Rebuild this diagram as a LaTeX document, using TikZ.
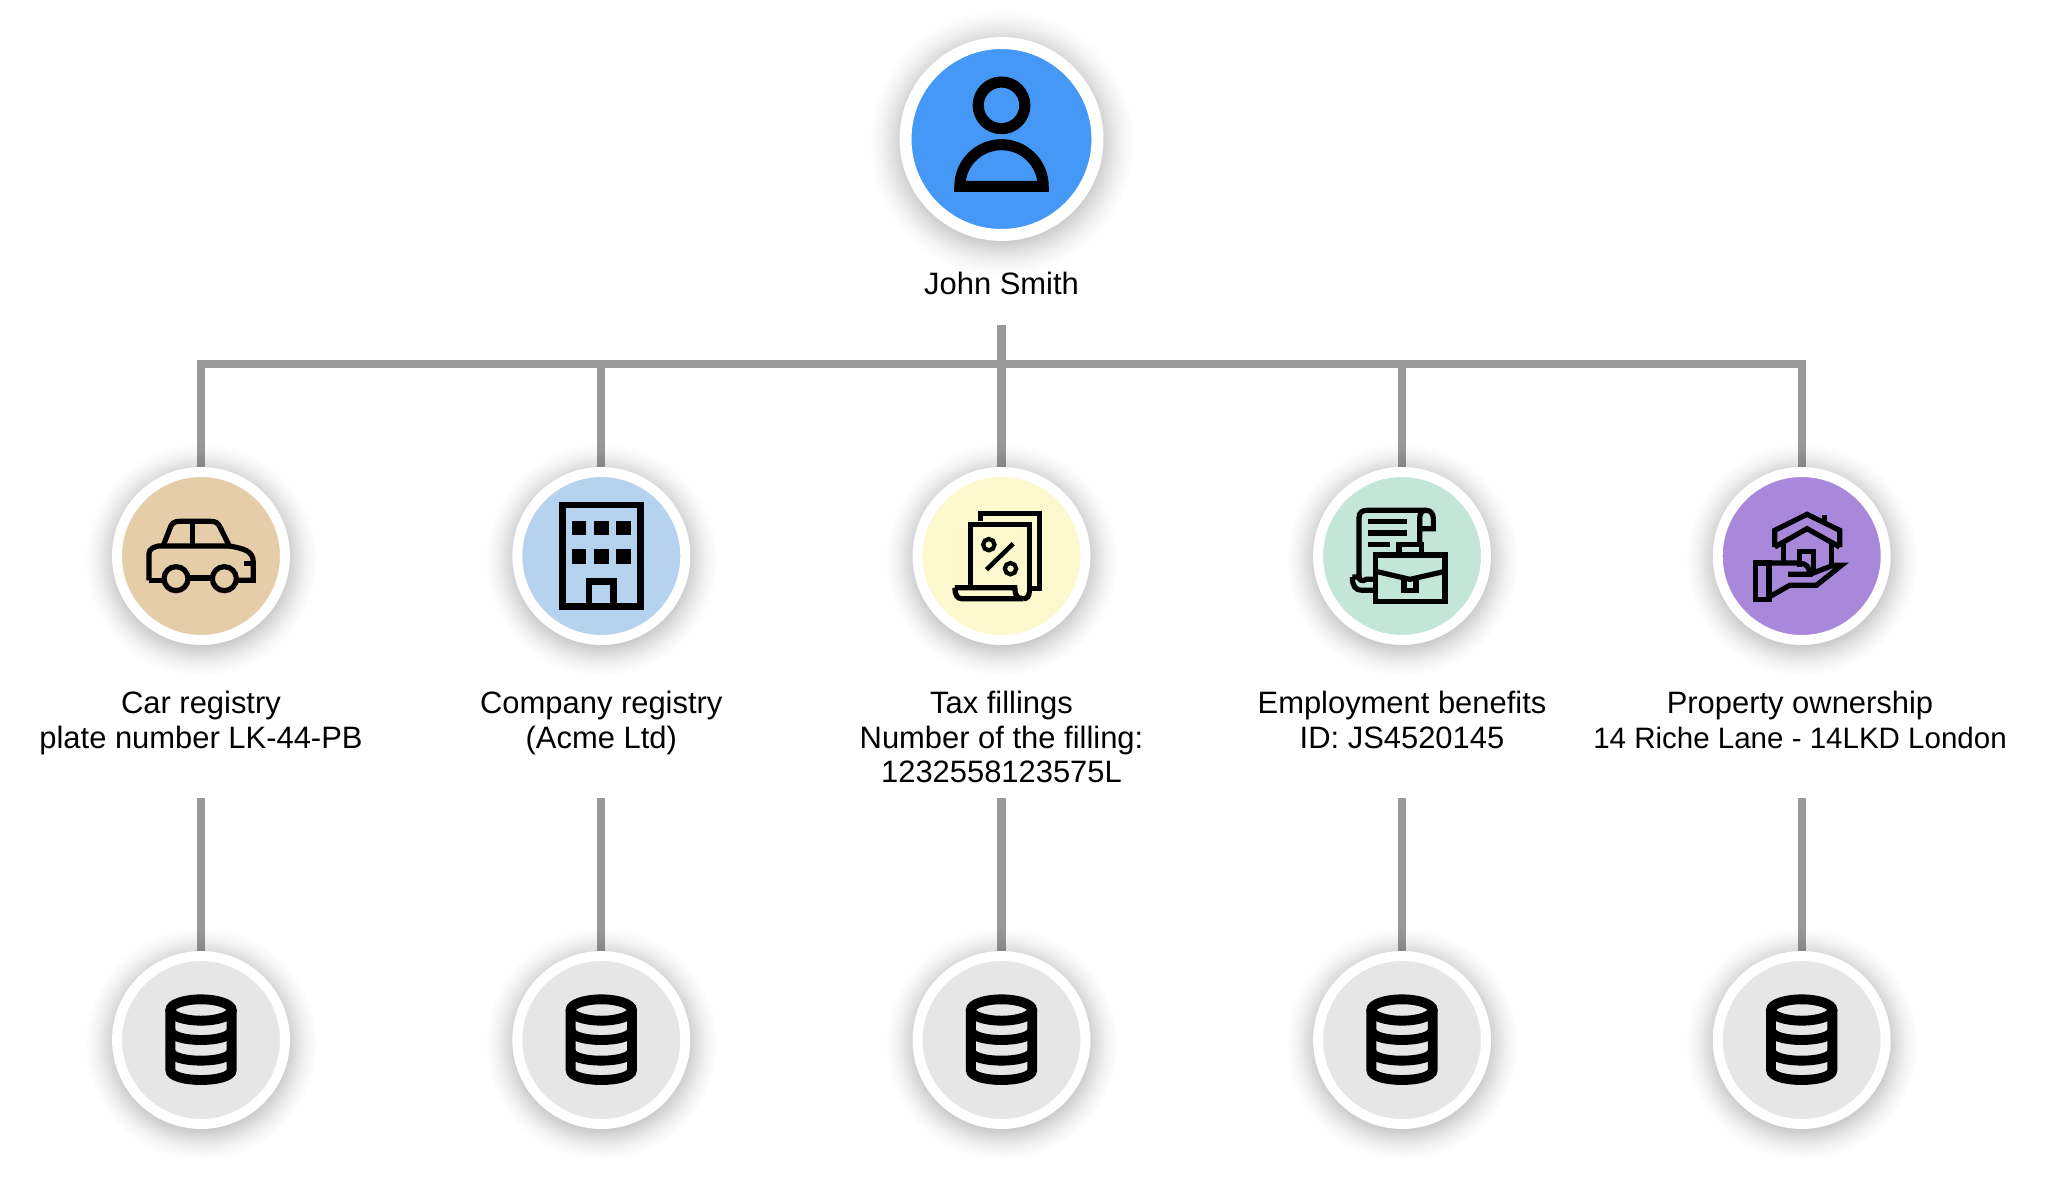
\documentclass[tikz,border=0pt]{standalone}
\usepackage{fontspec}
\setmainfont{Liberation Sans}
\usetikzlibrary{backgrounds,shadows,fadings}

\definecolor{johnblue}{HTML}{4598F6}
\definecolor{cartan}{HTML}{E6CDA9}
\definecolor{companyblue}{HTML}{B5D2EE}
\definecolor{taxyellow}{HTML}{FDF8CD}
\definecolor{benefitsgreen}{HTML}{C3E6D8}
\definecolor{propertypurple}{HTML}{A888DA}
\definecolor{dbgray}{HTML}{E6E6E6}
\definecolor{linkgray}{HTML}{999999}

\pgfdeclareradialshading{softhaloshade}{\pgfpointorigin}{color(0bp)=(pgftransparent!76); color(17.5bp)=(pgftransparent!76);
    color(19bp)=(pgftransparent!82); color(20.5bp)=(pgftransparent!88); color(22.5bp)=(pgftransparent!95);
    color(25bp)=(pgftransparent!100); color(50bp)=(pgftransparent!100)}
\pgfdeclarefading{softhalo}{\pgfuseshading{softhaloshade}}

\tikzset{
    disc/.style={circle, draw=white, line width=5.67pt, minimum size=3.36cm, inner sep=0pt,
        general shadow={shadow xshift=0pt, shadow yshift=-1.5pt, shadow scale=1.38, fill=black, path fading=softhalo}},
    bigdisc/.style={disc, line width=6.8pt, minimum size=3.84cm},
    link/.style={draw=linkgray, line width=4.7pt},
    caption/.style={align=center, inner sep=0pt, anchor=north, font=\fontsize{17.6}{19.5}\selectfont},
    icon/.style={x=0.00667cm, y=-0.00667cm, black, line width=2.95pt, miter limit=4}
}

\begin{document}
\begin{tikzpicture}[x=0.02cm, y=-0.02cm]
    \useasboundingbox (0,0) rectangle (2072,1186);

    % Person
    \node[bigdisc, fill=johnblue] (john) at (1001.5,139) {};
    \node[caption] (johnlabel) at (1001.5,271.5) {John Smith};

    % Registries
    \node[disc, fill=cartan] (car) at (201,556) {};
    \node[disc, fill=companyblue] (company) at (601.3,556) {};
    \node[disc, fill=taxyellow] (tax) at (1001.5,556) {};
    \node[disc, fill=benefitsgreen] (benefits) at (1402,556) {};
    \node[disc, fill=propertypurple] (property) at (1801.7,556) {};

    \node[caption] (carlabel) at (201,691) {Car registry\\plate number LK-44-PB};
    \node[caption] (companylabel) at (601.3,691) {Company registry\\(Acme Ltd)};
    \node[caption] (taxlabel) at (1001.5,691) {Tax fillings\\Number of the filling:\\1232558123575L};
    \node[caption] (benefitslabel) at (1402,691) {Employment benefits\\ID: JS4520145};
    \node[caption] (propertylabel) at (1800,691) {Property ownership\\{\fontsize{16.8}{19.5}\selectfont 14 Riche Lane - 14LKD London}};

    % Databases
    \foreach \name/\x in {car/201, company/601.3, tax/1001.5, benefits/1402, property/1801.7} {
        \node[disc, fill=dbgray] (\name db) at (\x,1040) {};
        \coordinate (\name stub) at (\x,798);
        \begin{scope}[shift={(\name db.center)}, icon, line width=5.6pt]
            \draw (0,-90) ellipse (92 and 32);
            \draw (-92,-90) -- (-92,90) .. controls (-92,130) and (92,130) .. (92,90) -- (92,-90);
            \draw (-92,-30) .. controls (-92,10) and (92,10) .. (92,-30);
            \draw (-92,32) .. controls (-92,72) and (92,72) .. (92,32);
        \end{scope}
    }

    % Connectors
    \coordinate (johnstub) at (1001.5,325);
    \coordinate (busleft) at (201,364);
    \coordinate (busright) at (1801.7,364);
    \begin{scope}[on background layer]
        \fill[white] (0,0) rectangle (2072,1186);
        \draw[link] (car.north) |- (busright) -- (property.north);
        \draw[link] (johnstub) -- (tax.north);
        \draw[link] (company.north) -- (company.north |- busleft);
        \draw[link] (benefits.north) -- (benefits.north |- busleft);
        \foreach \name in {car, company, tax, benefits, property}
            \draw[link] (\name stub) -- (\name db.north);
    \end{scope}

    % John
    \begin{scope}[shift={(john.center)}, icon, line width=6.3pt]
        \draw (0,-101) circle (70);
        \draw (-125,142) arc (180:360:125) -- cycle;
    \end{scope}

    % Car
    \begin{scope}[shift={(car.center)}, icon]
        \draw (-113,-32) -- (-95,-78) .. controls (-90,-98) and (-80,-104) .. (-65,-104) -- (30,-104)
            .. controls (45,-104) and (52,-98) .. (58,-85) -- (85,-30) .. controls (130,-22) and (157,-15) .. (157,20)
            -- (157,73) -- (106,73);
        \draw (-156,73) -- (-156,-7) .. controls (-156,-22) and (-140,-27) .. (-128,-30) -- (85,-30);
        \draw (-156,73) -- (-113,73);
        \draw (-33,66) -- (34,66);
        \draw (-25,-104) -- (-25,-30);
        \draw (128,23) -- (157,23);
        \draw (-75,68) circle (36);
        \draw (70,68) circle (36);
    \end{scope}

    % Company
    \begin{scope}[shift={(company.center)}, icon, line width=3.7pt]
        \draw (-117,-153) rectangle (118,151);
        \draw (-37,151) -- (-37,77) -- (37,77) -- (37,151);
        \foreach \wx in {-67,0,67}
            \foreach \wy in {-84,2}
                \fill (\wx-22,\wy-22) rectangle (\wx+22,\wy+22);
    \end{scope}

    % Tax
    \begin{scope}[shift={(tax.center)}, icon]
        \draw (-62,-105) -- (-62,-127) -- (115,-127) -- (115,97) -- (88,97);
        \draw (-93,90) -- (-93,-95) -- (83,-95) -- (83,110);
        \draw (-140,95) -- (40,95) .. controls (40,115) and (45,128) .. (65,128) -- (-120,128)
            .. controls (-133,128) and (-140,115) .. (-140,95);
        \draw (65,128) .. controls (78,128) and (83,120) .. (83,108);
        \draw[line width=2.4pt] (-38,-34) circle (17);
        \draw[line width=2.4pt] (27,38) circle (17);
        \draw[line width=2.6pt] (-45,41) -- (35,-37);
    \end{scope}

    % Benefits
    \begin{scope}[shift={(benefits.center)}, icon]
        \draw (-129,65) -- (-129,-115) .. controls (-129,-130) and (-120,-137) .. (-105,-137) -- (72,-137);
        \draw (53,-35) -- (53,-112) .. controls (53,-128) and (60,-137) .. (72,-137)
            .. controls (85,-137) and (94,-128) .. (94,-112) -- (94,-82) -- (53,-82);
        \draw (-149,63) -- (-129,63) .. controls (-129,72) and (-120,78) .. (-107,70) -- (-84,70);
        \draw (-149,63) .. controls (-149,90) and (-140,103) .. (-120,103) -- (-84,103);
        \draw[line width=2.9pt] (-103,-103) -- (16,-103);
        \draw[line width=2.9pt] (-103,-69) -- (16,-69);
        \draw[line width=2.9pt] (-103,-34) -- (-36,-34);
        \draw[line width=2.9pt] (-79,-3) rectangle (129,137);
        \draw (-9,-3) -- (-9,-35) -- (59,-35) -- (59,-3);
        \draw (-79,46) -- (24,70) -- (129,46);
        \draw (6,73) -- (6,103) -- (42,103) -- (42,73);
    \end{scope}

    % Property
    \begin{scope}[shift={(property.center)}, icon]
        \draw (-81,-27) -- (-81,-77) -- (16,-125) -- (114,-77) -- (114,-27);
        \draw (-81,-27) -- (16,-82) -- (114,-27);
        \draw (69,-122) -- (69,-97);
        \draw (-54,-37) -- (-54,15);
        \draw (89,-37) -- (89,23);
        \draw (-6,33) -- (-6,-14) -- (36,-14) -- (36,53);
        \draw (-138,21) rectangle (-98,130);
        \draw (-98,21) -- (-6,21) .. controls (15,23) and (24,35) .. (24,55) -- (-41,55);
        \draw (24,55) -- (94,28) -- (119,28) -- (44,88) -- (-36,88) -- (-98,123);
    \end{scope}
\end{tikzpicture}
\end{document}
